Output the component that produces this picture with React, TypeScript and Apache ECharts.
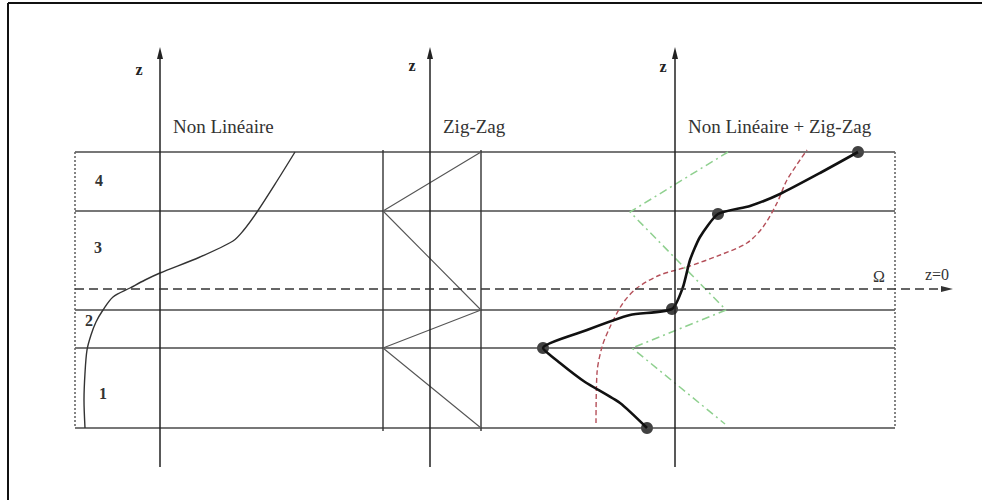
import { useEffect, useRef } from "react";
import * as echarts from "echarts";

// Coordinates: x runs left to right, z is height above the reference level Ω (z = 0).
const interfaces = [137, 78, -21, -59, -139]; // layer boundaries, top to bottom
const domainX = [75, 895]; // lateral extent of the layered domain
const zeroLineEnd = 947;
const axisX = [160, 430, 675]; // the three z axes
const axisZ = [-178, 236]; // bottom and arrow tip of each z axis

// Panel 1: non-linear profile
const nonLinear: [number, number][] = [
  [85, -139], [84, -111], [85, -84], [87, -61], [91, -46], [96, -33], [103, -21],
  [113, -8], [130, 1], [145, 9], [160, 16], [200, 32], [233, 48], [243, 58],
  [257, 77], [277, 108], [295, 137],
];

// Panel 2: zig-zag profile between two bounds
const zigZagBounds = [383, 481];
const zigZag: [number, number][] = [[481, 137], [383, 78], [481, -21], [383, -59], [481, -139]];

// Panel 3: both components and their combination
const combinedZigZag: [number, number][] = [[728, 137], [630, 77], [726, -21], [632, -59], [725, -135]];
const combinedNonLinear: [number, number][] = [
  [596, -134], [597, -84], [602, -58], [610, -38], [623, -14], [637, 1], [660, 14],
  [687, 22], [720, 34], [747, 46], [763, 62], [777, 86], [787, 109], [807, 139],
];
const solutionPath: [number, number][] = [
  [647, -139], [620, -114], [585, -93], [560, -74], [543, -59],
  [587, -41], [630, -26], [672, -20],
  [683, 2], [690, 29], [700, 52], [718, 75],
  [750, 83], [780, 95], [820, 116], [858, 137],
];
const solutionNodes: [number, number][] = [[647, -139], [543, -59], [672, -20], [718, 75], [858, 137]];

const SERIF = '"Liberation Serif", "DejaVu Serif", serif';

export default function App() {
  const ref = useRef<HTMLDivElement>(null);

  useEffect(() => {
    if (!ref.current) return;
    const chart = echarts.init(ref.current, undefined, { renderer: "svg" });

    const plain = (data: [number, number][], color: string, width: number, type: any = "solid", smooth: number | boolean = false) => ({
      type: "line",
      data,
      showSymbol: false,
      symbol: "none",
      smooth,
      clip: false,
      silent: true,
      lineStyle: { color, width, type },
    });

    const series: any[] = [];

    // layer boundaries
    interfaces.forEach((z) => {
      series.push(plain([[domainX[0], z], [domainX[1], z]], "#4a4a4a", 1.6));
    });
    // dotted lateral limits
    domainX.forEach((x) => {
      series.push(plain([[x, interfaces[0]], [x, interfaces[interfaces.length - 1]]], "#666", 1.6, [2, 2]));
    });
    // zig-zag bounds
    zigZagBounds.forEach((x) => {
      series.push(plain([[x, interfaces[0] + 2], [x, interfaces[interfaces.length - 1] - 3]], "#333", 1.4));
    });

    series.push(plain(nonLinear, "#333", 1.4, "solid", 0.3));
    series.push(plain(zigZag, "#555", 1.1));
    series.push(plain(combinedZigZag, "#8fd08f", 1.5, [8, 4, 2, 4]));
    series.push(plain(combinedNonLinear, "#b5505a", 1.4, [5, 3], 0.3));
    series.push(plain(solutionPath, "#111", 2.6, "solid", 0.2));
    series.push({
      type: "scatter",
      data: solutionNodes,
      symbol: "circle",
      symbolSize: 12,
      silent: true,
      itemStyle: { color: "#111" },
    });

    // z axes and the z = 0 level, drawn as arrows
    series.push({
      type: "line",
      data: [],
      silent: true,
      markLine: {
        silent: true,
        symbol: ["none", "triangle"],
        symbolSize: [6, 12],
        label: { show: false },
        emphasis: { disabled: true },
        lineStyle: { color: "#222", width: 1.5, type: "solid" },
        data: [
          ...axisX.map((x) => [
            { coord: [x, axisZ[0]] },
            { coord: [x, axisZ[1]] },
          ]),
          [
            { coord: [domainX[0], 0], lineStyle: { type: [9, 5], color: "#333", width: 1.5 } },
            { coord: [zeroLineEnd, 0] },
          ],
        ],
      },
    });

    const text = (t: string, x: number, y: number, size: number, align = "center", color = "#333", weight = "normal") => ({
      type: "text",
      x,
      y,
      silent: true,
      style: { text: t, font: `${weight} ${size}px ${SERIF}`, fill: color, align, verticalAlign: "middle" },
    });

    chart.setOption({
      animation: false,
      grid: { left: 0, right: 0, top: 0, bottom: 0 },
      xAxis: { type: "value", min: 0, max: 982, show: false },
      yAxis: { type: "value", min: -211, max: 289, show: false },
      series,
      graphic: [
        { type: "line", silent: true, shape: { x1: 8, y1: 3, x2: 982, y2: 3 }, style: { stroke: "#111", lineWidth: 2 } },
        { type: "line", silent: true, shape: { x1: 8, y1: 3, x2: 8, y2: 500 }, style: { stroke: "#111", lineWidth: 2 } },
        text("Non Linéaire", 173, 126, 19, "left"),
        text("Zig-Zag", 443, 126, 19, "left"),
        text("Non Linéaire + Zig-Zag", 688, 126, 19, "left"),
        text("z", 139, 69, 16, "center", "#222", "bold"),
        text("z", 412, 65, 16, "center", "#222", "bold"),
        text("z", 663, 66, 16, "center", "#222", "bold"),
        text("4", 99, 180, 16, "center", "#333", "bold"),
        text("3", 98, 247, 16, "center", "#333", "bold"),
        text("2", 89, 320, 16, "center", "#333", "bold"),
        text("1", 103, 393, 16, "center", "#333", "bold"),
        text("Ω", 879, 276, 16),
        text("z=0", 937, 274, 16),
      ],
    });

    return () => chart.dispose();
  }, []);

  return <div ref={ref} style={{ position: "fixed", left: 0, top: 0, width: 982, height: 500, background: "#fff" }} />;
}
